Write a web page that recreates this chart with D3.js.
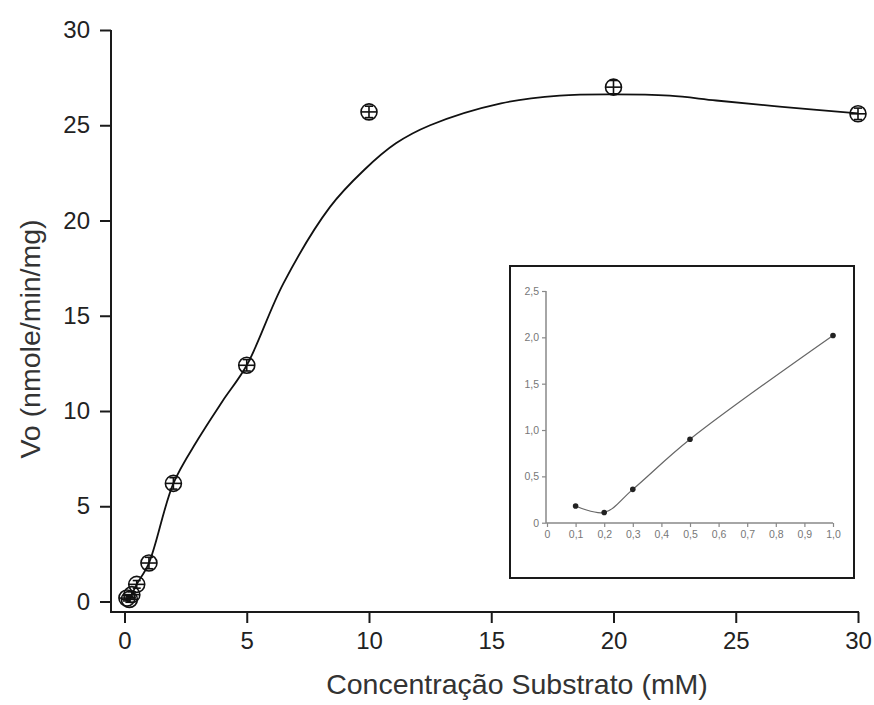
<!DOCTYPE html>
<html>
<head>
<meta charset="utf-8">
<script src="https://cdn.jsdelivr.net/npm/d3@7/dist/d3.min.js"></script>
<style>
  body { margin: 0; background: #fff; }
  svg { display: block; }
</style>
</head>
<body>
<svg id="chart" width="874" height="705"></svg>
<script>
// Initial velocity vs substrate concentration
const substrate   = [0.1, 0.2, 0.3, 0.5, 1, 2, 5, 10, 20, 30];
const velocity    = [0.18, 0.11, 0.36, 0.90, 2.02, 6.2, 12.4, 25.7, 27.0, 25.6];
const velocityErr = [0.15, 0.15, 0.15, 0.2, 0.3, 0.3, 0.3, 0.3, 0.35, 0.3];

// Fitted curve through the measurements
const fitX = [0.1, 0.2, 0.3, 0.5, 1, 2, 3, 4, 5, 6.5, 8.4, 9.8, 11.1, 12.5, 15.4, 17.8, 19.9, 22.3, 24.2, 26.9, 30];
const fitY = [0.18, 0.11, 0.36, 0.90, 2.02, 6.2, 8.5, 10.5, 12.4, 16.7, 20.7, 22.65, 24.05, 25.0, 26.15, 26.55, 26.62, 26.55, 26.3, 25.97, 25.62];

const xTicks = [0, 5, 10, 15, 20, 25, 30];
const yTicks = [0, 5, 10, 15, 20, 25, 30];

// Inset: low-concentration range
const insetSubstrate = [0.1, 0.2, 0.3, 0.5, 1.0];
const insetVelocity  = [0.18, 0.11, 0.36, 0.90, 2.02];
const insetXTicks  = [0, 0.1, 0.2, 0.3, 0.4, 0.5, 0.6, 0.7, 0.8, 0.9, 1.0];
const insetXLabels = ["0", "0,1", "0,2", "0,3", "0,4", "0,5", "0,6", "0,7", "0,8", "0,9", "1,0"];
const insetYTicks  = [0, 0.5, 1.0, 1.5, 2.0, 2.5];
const insetYLabels = ["0", "0,5", "1,0", "1,5", "2,0", "2,5"];

const svg = d3.select("#chart");
const font = "'Liberation Sans', Arial, sans-serif";

// ---- main plot ----
const x = d3.scaleLinear().domain([0, 30]).range([124.5, 858]);
const y = d3.scaleLinear().domain([0, 30]).range([601.5, 30]);
const axisX0 = 111;   // position of the vertical axis line
const axisY0 = 612;   // position of the horizontal axis line

const yAxis = svg.append("g")
  .attr("transform", `translate(${axisX0},0)`)
  .call(d3.axisLeft(y).tickValues(yTicks).tickSize(11).tickPadding(10).tickSizeOuter(0));
const xAxis = svg.append("g")
  .attr("transform", `translate(0,${axisY0})`)
  .call(d3.axisBottom(x).tickValues(xTicks).tickSize(11).tickPadding(9).tickSizeOuter(0));

[yAxis, xAxis].forEach(g => {
  g.select(".domain").remove();
  g.selectAll(".tick line").attr("stroke", "#1a1a1a").attr("stroke-width", 2);
  g.selectAll(".tick text").attr("fill", "#222").style("font-family", font).style("font-size", "24px");
});

// axis lines meeting at the lower-left corner
svg.append("line")
  .attr("x1", axisX0).attr("x2", axisX0)
  .attr("y1", y(30)).attr("y2", axisY0 + 1)
  .attr("stroke", "#1a1a1a").attr("stroke-width", 2);
svg.append("line")
  .attr("x1", axisX0 - 1).attr("x2", x(30) + 1)
  .attr("y1", axisY0).attr("y2", axisY0)
  .attr("stroke", "#1a1a1a").attr("stroke-width", 2);

// fitted curve
const fitLine = d3.line()
  .x((d, i) => x(fitX[i]))
  .y(d => y(d))
  .curve(d3.curveCatmullRom.alpha(0.5));
svg.append("path")
  .datum(fitY)
  .attr("d", fitLine)
  .attr("fill", "none")
  .attr("stroke", "#111")
  .attr("stroke-width", 1.8);

// open circle markers with error bars
const pts = svg.append("g").selectAll("g")
  .data(substrate.map((s, i) => ({ s, v: velocity[i], e: velocityErr[i] })))
  .join("g");
const r = 8;
pts.append("circle")
  .attr("cx", d => x(d.s)).attr("cy", d => y(d.v)).attr("r", r)
  .attr("fill", "none").attr("stroke", "#111").attr("stroke-width", 1.6);
pts.append("line")
  .attr("x1", d => x(d.s) - r).attr("x2", d => x(d.s) + r)
  .attr("y1", d => y(d.v)).attr("y2", d => y(d.v))
  .attr("stroke", "#111").attr("stroke-width", 1.6);
pts.append("line")
  .attr("x1", d => x(d.s)).attr("x2", d => x(d.s))
  .attr("y1", d => y(d.v + d.e)).attr("y2", d => y(d.v - d.e))
  .attr("stroke", "#111").attr("stroke-width", 1.6);
pts.append("line")
  .attr("x1", d => x(d.s) - 4).attr("x2", d => x(d.s) + 4)
  .attr("y1", d => y(d.v + d.e)).attr("y2", d => y(d.v + d.e))
  .attr("stroke", "#111").attr("stroke-width", 1.6);
pts.append("line")
  .attr("x1", d => x(d.s) - 4).attr("x2", d => x(d.s) + 4)
  .attr("y1", d => y(d.v - d.e)).attr("y2", d => y(d.v - d.e))
  .attr("stroke", "#111").attr("stroke-width", 1.6);

// axis titles
svg.append("text")
  .attr("x", 517).attr("y", 694)
  .attr("text-anchor", "middle")
  .style("font-family", font).style("font-size", "28.5px").attr("fill", "#333")
  .text("Concentração Substrato (mM)");
svg.append("text")
  .attr("transform", "translate(40,339) rotate(-90)")
  .attr("text-anchor", "middle")
  .style("font-family", font).style("font-size", "28.5px").attr("fill", "#333")
  .text("Vo (nmole/min/mg)");

// ---- inset ----
const inset = svg.append("g");
inset.append("rect")
  .attr("x", 510).attr("y", 266).attr("width", 344).attr("height", 312)
  .attr("fill", "#fff").attr("stroke", "#1a1a1a").attr("stroke-width", 2);

const ix = d3.scaleLinear().domain([0, 1]).range([547, 833]);
const iy = d3.scaleLinear().domain([0, 2.5]).range([522.7, 291]);
const iaxX0 = 546, iaxY0 = 523;

const iyAxis = inset.append("g")
  .attr("transform", `translate(${iaxX0},0)`)
  .call(d3.axisLeft(iy).tickValues(insetYTicks).tickSize(4).tickPadding(3).tickSizeOuter(0)
    .tickFormat((d, i) => insetYLabels[i]));
const ixAxis = inset.append("g")
  .attr("transform", `translate(0,${iaxY0})`)
  .call(d3.axisBottom(ix).tickValues(insetXTicks).tickSize(4).tickPadding(4).tickSizeOuter(0)
    .tickFormat((d, i) => insetXLabels[i]));
[iyAxis, ixAxis].forEach(g => {
  g.select(".domain").remove();
  g.selectAll(".tick line").attr("stroke", "#888").attr("stroke-width", 1.2);
  g.selectAll(".tick text").attr("fill", "#777").style("font-family", font).style("font-size", "10.5px");
});
inset.append("line")
  .attr("x1", iaxX0).attr("x2", iaxX0).attr("y1", iy(2.5)).attr("y2", iaxY0)
  .attr("stroke", "#888").attr("stroke-width", 1.5);
inset.append("line")
  .attr("x1", iaxX0).attr("x2", ix(1)).attr("y1", iaxY0).attr("y2", iaxY0)
  .attr("stroke", "#888").attr("stroke-width", 1.5);

const insetLine = d3.line()
  .x((d, i) => ix(insetSubstrate[i]))
  .y(d => iy(d))
  .curve(d3.curveCatmullRom.alpha(0.5));
inset.append("path")
  .datum(insetVelocity)
  .attr("d", insetLine)
  .attr("fill", "none").attr("stroke", "#666").attr("stroke-width", 1.2);
inset.append("g").selectAll("circle")
  .data(insetVelocity)
  .join("circle")
  .attr("cx", (d, i) => ix(insetSubstrate[i]))
  .attr("cy", d => iy(d))
  .attr("r", 2.8)
  .attr("fill", "#222");
</script>
</body>
</html>
